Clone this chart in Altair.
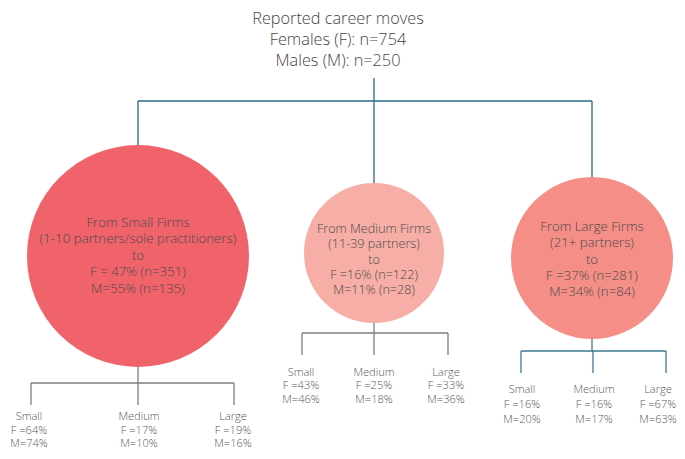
import altair as alt
import pandas as pd

# ---------------- data ----------------
title_lines = ["Reported career moves", "Females (F): n=754", "Males (M): n=250"]

origins = ["Small", "Medium", "Large"]
origin_desc = ["(1-10 partners/sole practitioners)", "(11-39 partners)", "(21+ partners)"]
origin_f_label = ["F = 47%", "F =16%", "F =37%"]
origin_f_n = [351, 122, 281]
origin_m_label = ["M=55%", "M=11%", "M=34%"]
origin_m_n = [135, 28, 84]

dest_names = ["Small", "Medium", "Large"]
dest_f = [[64, 17, 19], [43, 25, 33], [16, 16, 67]]
dest_m = [[74, 10, 16], [46, 18, 36], [20, 17, 63]]

# ---------------- layout (pixel space of the 685x459 page) ----------------
FONT = "Open Sans"
title_x, title_y, title_lh = 338, 40, 20.8
root_x, root_top, root_bus = 374, 78, 101
node_x = [138, 374, 592]
node_y = [256, 253, 258]
node_r = [111, 70, 81]
node_text_y = [255.5, 259.5, 259.5]
node_lh = [16.5, 15.4, 16.3]
node_color = ["#F0636B", "#F7AEA6", "#F48E87"]
node_font = [13.3, 12.6, 13.2]
branch_x = [[31, 138, 234], [302, 374, 448], [521, 593, 666]]
label_x = [[29, 139, 233], [301, 374, 446], [522, 594, 658]]
bus_y = [383, 333, 351]
leaf_end = [405, 355, 373]
leaf_base = [420, 375.7, 393]     # baseline of first label line
leaf_lh = [13.6, 13.6, 14.8]
tree_color = ["#7d7d7d", "#7d7d7d", "#3d7893"]
top_color = "#2a6a8a"

W, H = 685, 459
M = 8
xs = alt.Scale(domain=[M, W - M], nice=False, zero=False)
ys = alt.Scale(domain=[M, H - M], nice=False, zero=False, reverse=True)
X = alt.X("x:Q", scale=xs, axis=None)
Y = alt.Y("y:Q", scale=ys, axis=None)

# segments
segs = []
segs.append(dict(x=root_x, y=root_top, x2=root_x, y2=root_bus, c=top_color))
segs.append(dict(x=node_x[0], y=root_bus, x2=node_x[-1], y2=root_bus, c=top_color))
for i in range(3):
    segs.append(dict(x=node_x[i], y=root_bus, x2=node_x[i], y2=node_y[i] - node_r[i], c=top_color))
    segs.append(dict(x=node_x[i], y=node_y[i] + node_r[i], x2=node_x[i], y2=bus_y[i], c=tree_color[i]))
    segs.append(dict(x=branch_x[i][0], y=bus_y[i], x2=branch_x[i][-1], y2=bus_y[i], c=tree_color[i]))
    for bx in branch_x[i]:
        segs.append(dict(x=bx, y=bus_y[i], x2=bx, y2=leaf_end[i], c=tree_color[i]))
seg_df = pd.DataFrame(segs)

rules = alt.Chart(seg_df).mark_rule(strokeWidth=1.3).encode(
    x=X, y=Y, x2="x2:Q", y2="y2:Q",
    color=alt.Color("c:N", scale=None),
)

nodes = pd.DataFrame({
    "x": node_x,
    "y": node_y,
    "size": [4 * r * r for r in node_r],
    "c": node_color,
})

circles = alt.Chart(nodes).mark_circle(opacity=1, strokeWidth=0).encode(
    x=X, y=Y,
    size=alt.Size("size:Q", scale=None),
    color=alt.Color("c:N", scale=None),
)

# text rows, one per line, centred on the block centre
rows = []
for i in range(3):
    lines = [
        f"From {origins[i]} Firms",
        origin_desc[i],
        "to",
        f"{origin_f_label[i]}  (n={origin_f_n[i]})",
        f"{origin_m_label[i]}  (n={origin_m_n[i]})",
    ]
    n = len(lines)
    for k, t in enumerate(lines):
        rows.append(dict(x=node_x[i], y=node_text_y[i] + (k - (n - 1) / 2) * node_lh[i],
                         label=t, fs=node_font[i]))
node_df = pd.DataFrame(rows)

node_text = alt.Chart(node_df).mark_text(
    font=FONT, fontWeight=300, color="#4a4a4a", baseline="middle", align="center"
).encode(
    x=X, y=Y, text="label:N",
    size=alt.Size("fs:Q", scale=None),
)

leaves = []
for i in range(3):
    for j in range(3):
        lines = [dest_names[j], f"F ={dest_f[i][j]}%", f"M={dest_m[i][j]}%"]
        for k, t in enumerate(lines):
            leaves.append(dict(x=label_x[i][j], y=leaf_base[i] + k * leaf_lh[i], label=t))
leaf_df = pd.DataFrame(leaves)

leaf_text = alt.Chart(leaf_df).mark_text(
    font=FONT, fontWeight=300, fontSize=11.1, color="#5a5a5a",
    baseline="alphabetic", align="center"
).encode(x=X, y=Y, text="label:N")

title_df = pd.DataFrame({
    "x": [title_x] * 3,
    "y": [title_y + (k - 1) * title_lh for k in range(3)],
    "label": title_lines,
})
title = alt.Chart(title_df).mark_text(
    font=FONT, fontWeight=300, fontSize=16.3, color="#444444",
    baseline="middle", align="center"
).encode(x=X, y=Y, text="label:N")

chart = alt.layer(rules, circles, node_text, leaf_text, title).properties(
    width=W - 2 * M,
    height=H - 2 * M,
    padding=0,
    autosize=alt.AutoSizeParams(type="none"),
).configure_view(stroke=None)

chart.save("out.html", embed_options={"renderer": "svg", "actions": False})
